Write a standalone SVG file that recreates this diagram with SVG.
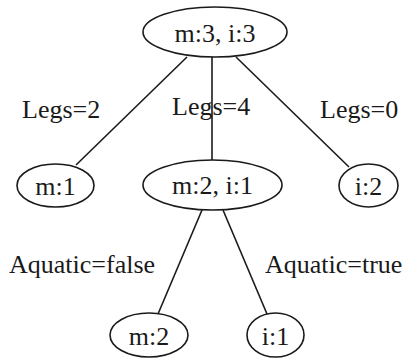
<svg xmlns="http://www.w3.org/2000/svg" width="408" height="358" viewBox="0 0 408 358">
<style>
.n ellipse{fill:#fff;stroke:#1a1a1a;stroke-width:1.6}
text{font-family:"Liberation Serif","Times New Roman",serif;font-size:26px;fill:#1a1a1a}
.n text{text-anchor:middle}
#edges line{stroke:#1a1a1a;stroke-width:1.6}
</style>
<rect width="408" height="358" fill="#fff"/>
<g id="edges">
<line x1="187" y1="57" x2="76" y2="165"/>
<line x1="212" y1="57" x2="212" y2="160"/>
<line x1="236" y1="57" x2="349" y2="167"/>
<line x1="202" y1="210" x2="158" y2="314"/>
<line x1="223" y1="210" x2="267" y2="314"/>
<text x="22" y="118">Legs=2</text>
<text x="172" y="115">Legs=4</text>
<text x="320" y="118">Legs=0</text>
<text x="9" y="273">Aquatic=false</text>
<text x="265" y="273">Aquatic=true</text>
</g>
<g id="root" class="n"><ellipse cx="215" cy="32" rx="72" ry="25"/><text x="215" y="42">m:3, i:3</text></g>
<g id="m1" class="n"><ellipse cx="55.5" cy="185.5" rx="38.5" ry="21.5"/><text x="55.5" y="195">m:1</text></g>
<g id="m2i1" class="n"><ellipse cx="212.5" cy="185" rx="69.5" ry="25"/><text x="212.5" y="194">m:2, i:1</text></g>
<g id="i2" class="n"><ellipse cx="368.5" cy="185.5" rx="29.5" ry="21.5"/><text x="368.5" y="195">i:2</text></g>
<g id="m2" class="n"><ellipse cx="149" cy="335" rx="39" ry="22"/><text x="149" y="345">m:2</text></g>
<g id="i1" class="n"><ellipse cx="275.5" cy="335" rx="28.5" ry="22"/><text x="275.5" y="345">i:1</text></g>
</svg>
